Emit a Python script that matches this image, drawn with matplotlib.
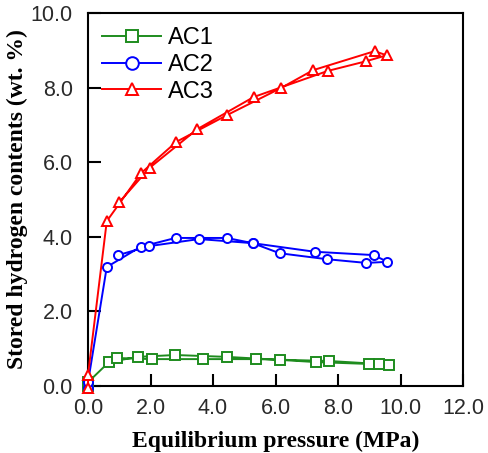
import numpy as np
import matplotlib
matplotlib.use("Agg")
import matplotlib.pyplot as plt

# datos (adsorcion y desorcion en una sola linea)
p_ac1 = [0.0, 0.0, 0.67, 1.6, 2.78, 4.44, 6.13, 7.3, 9.0, 9.62, 9.3, 7.7, 5.37, 3.67, 2.04, 0.93]
w_ac1 = [0.0, 0.1, 0.64, 0.78, 0.83, 0.78, 0.70, 0.64, 0.59, 0.56, 0.59, 0.67, 0.72, 0.72, 0.72, 0.75]

p_ac2 = [0.0, 0.0, 0.6, 1.68, 2.8, 4.44, 5.27, 7.25, 9.14, 9.58, 8.9, 7.64, 6.13, 5.27, 3.55, 1.95, 0.97]
w_ac2 = [-0.05, 0.1, 3.19, 3.73, 3.97, 3.97, 3.83, 3.60, 3.51, 3.33, 3.30, 3.40, 3.56, 3.83, 3.94, 3.75, 3.51]

p_ac3 = [0.0, 0.0, 0.6, 1.7, 2.83, 4.46, 6.17, 7.2, 9.17, 9.55, 8.9, 7.67, 5.3, 3.5, 1.97, 1.0]
w_ac3 = [-0.05, 0.3, 4.42, 5.71, 6.55, 7.27, 7.99, 8.47, 8.98, 8.87, 8.71, 8.45, 7.75, 6.89, 5.85, 4.93]

xticks = [0, 2, 4, 6, 8, 10, 12]
yticks = [0, 2, 4, 6, 8, 10]

fig = plt.figure(figsize=(4.89, 4.53), dpi=100)
ax = fig.add_axes([0.18, 0.148, 0.767, 0.823])

estilo = dict(lw=1.4, ms=6.5, mew=1.4, mfc='white', clip_on=False, zorder=3)
ax.plot(p_ac1, w_ac1, 's-', color='#1e8c1e', label='AC1', **estilo)
ax.plot(p_ac2, w_ac2, 'o-', color='#0000ff', label='AC2', **estilo)
ax.plot(p_ac3, w_ac3, '^-', color='#ff0000', label='AC3', **estilo)

ax.set_xlim(0, 12)
ax.set_ylim(0, 10)
ax.set_xticks(xticks)
ax.set_yticks(yticks)
ax.set_xticklabels([f'{t:.1f}' for t in xticks], family='Liberation Sans')
ax.set_yticklabels([f'{t:.1f}' for t in yticks], family='Liberation Sans')
ax.tick_params(direction='in', length=9, width=1.5, labelsize=15.5,
               colors='black', labelcolor='#2a2a2a')
ax.tick_params(axis='x', pad=9)
ax.tick_params(axis='y', pad=11)
for s in ax.spines.values():
    s.set_linewidth(1.5)

fuente = dict(family='Liberation Serif', weight='bold', size=17)
ax.set_xlabel('Equilibrium pressure (MPa)', labelpad=8, **fuente)
ax.set_ylabel('Stored hydrogen contents (wt. %)', labelpad=2, **fuente)

ax.legend(loc='upper left', frameon=False, handlelength=2.5, markerscale=1.4,
          prop=dict(family='Liberation Sans', size=17),
          labelspacing=0.2, handletextpad=0.3, borderaxespad=0.3,
          borderpad=0.3)

fig.savefig('out.png', dpi=100)
